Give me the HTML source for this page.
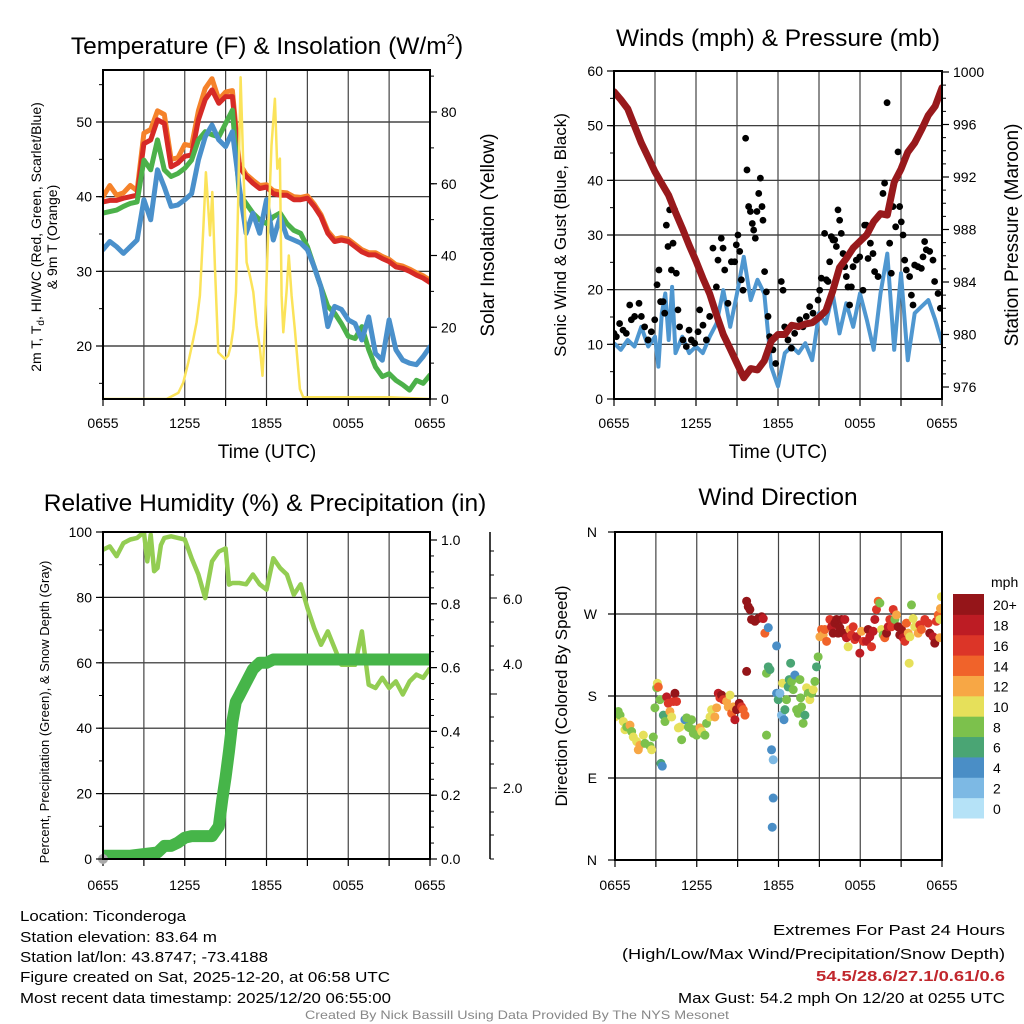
<!DOCTYPE html>
<html><head><meta charset="utf-8"><style>
html,body{margin:0;padding:0;background:#fff;}
svg{display:block;font-family:"Liberation Sans",Arial,sans-serif;}
</style></head><body>
<svg id="fig" width="1024" height="1024" viewBox="0 0 1024 1024" xmlns="http://www.w3.org/2000/svg">
<defs>
<clipPath id="c1"><rect x="103" y="70" width="327" height="329"/></clipPath>
<clipPath id="c2"><rect x="614" y="71" width="328" height="328"/></clipPath>
<clipPath id="c3"><rect x="103" y="532" width="327" height="327"/></clipPath>
<clipPath id="c4"><rect x="615" y="532" width="327" height="328"/></clipPath>
</defs>
<g id="p1"></g>
<g id="p2"></g>
<g id="p3"></g>
<g id="p4"></g>

<text x="267" y="54" font-size="24.5" text-anchor="middle">Temperature (F) &amp; Insolation (W/m<tspan font-size="15" dy="-10">2</tspan><tspan dy="10">)</tspan></text>
<text x="778" y="46" font-size="24.5" text-anchor="middle">Winds (mph) &amp; Pressure (mb)</text>
<text x="265" y="511" font-size="24.5" text-anchor="middle">Relative Humidity (%) &amp; Precipitation (in)</text>
<text x="778" y="505" font-size="24.5" text-anchor="middle">Wind Direction</text>

<text transform="translate(41,237) rotate(-90)" font-size="14" text-anchor="middle">2m T, T<tspan font-size="10" dy="3">d</tspan><tspan dy="-3">, HI/WC (Red, Green, Scarlet/Blue)</tspan></text>
<text transform="translate(57,237) rotate(-90)" font-size="14" text-anchor="middle">&amp; 9m T (Orange)</text>
<text transform="translate(494,235) rotate(-90)" font-size="19" text-anchor="middle">Solar Insolation (Yellow)</text>
<text x="267" y="458" font-size="19" text-anchor="middle">Time (UTC)</text>
<text transform="translate(566,235) rotate(-90)" font-size="17" text-anchor="middle">Sonic Wind &amp; Gust (Blue, Black)</text>
<text transform="translate(1018,235) rotate(-90)" font-size="19" text-anchor="middle">Station Pressure (Maroon)</text>
<text x="778" y="458" font-size="19" text-anchor="middle">Time (UTC)</text>
<text transform="translate(49,712) rotate(-90)" font-size="13" text-anchor="middle">Percent, Precipitation (Green), &amp; Snow Depth (Gray)</text>
<text transform="translate(567,696) rotate(-90)" font-size="17" text-anchor="middle">Direction (Colored By Speed)</text>

<g font-size="15">
<text x="20" y="921" textLength="166" lengthAdjust="spacingAndGlyphs">Location: Ticonderoga</text>
<text x="20" y="942" textLength="197" lengthAdjust="spacingAndGlyphs">Station elevation: 83.64 m</text>
<text x="20" y="962" textLength="248" lengthAdjust="spacingAndGlyphs">Station lat/lon: 43.8747; -73.4188</text>
<text x="20" y="982" textLength="370" lengthAdjust="spacingAndGlyphs">Figure created on Sat, 2025-12-20, at 06:58 UTC</text>
<text x="20" y="1003" textLength="371" lengthAdjust="spacingAndGlyphs">Most recent data timestamp: 2025/12/20 06:55:00</text>
</g>
<g font-size="15" text-anchor="end">
<text x="1005" y="935" textLength="232" lengthAdjust="spacingAndGlyphs">Extremes For Past 24 Hours</text>
<text x="1005" y="959" textLength="383" lengthAdjust="spacingAndGlyphs">(High/Low/Max Wind/Precipitation/Snow Depth)</text>
<text x="1005" y="981" textLength="189" lengthAdjust="spacingAndGlyphs" fill="#c1272d" font-weight="bold">54.5/28.6/27.1/0.61/0.6</text>
<text x="1005" y="1003" textLength="327" lengthAdjust="spacingAndGlyphs">Max Gust: 54.2 mph On 12/20 at 0255 UTC</text>
</g>
<text x="517" y="1019" font-size="12" fill="#888" text-anchor="middle" textLength="424" lengthAdjust="spacingAndGlyphs">Created By Nick Bassill Using Data Provided By The NYS Mesonet</text>
</svg>
<script>
// ---------- data ----------
const hours = [0,0.5,1,1.5,2,2.5,3,3.5,4,4.5,5,5.5,6,6.5,7,7.5,8,8.5,9,9.5,10,10.5,11,11.5,12,12.5,13,13.5,14,14.5,15,15.5,16,16.5,17,17.5,18,18.5,19,19.5,20,20.5,21,21.5,22,22.5,23,23.5,24];
const xTickLabels = ["0655","1255","1855","0055","0655"];
const tempRed = [39.3,39.5,39.5,39.8,40,40.2,47.1,47.6,50.3,49.8,44,44.5,45.4,45.6,50.3,53,54.3,52.5,53.4,53.4,44,42.7,41.8,41.1,41.3,40.4,40.2,40.2,39.6,39.6,39.8,38.7,37.3,35.1,34,34.2,34,33.3,32.6,32.2,32.2,31.7,31.3,30.6,30.4,30,29.5,29.1,28.5];
const tempOrange = [40,41.5,40.2,40.5,41.5,40.8,48.5,49,51.5,51,45,45.2,47,46.8,51.5,54.5,55.8,53,54,54.2,44.5,43,42.2,41.5,41.6,40.8,40.6,40.5,40,39.9,40.1,39,37.6,35.4,34.3,34.5,34.3,33.6,32.9,32.5,32.5,32,31.6,30.9,30.7,30.3,29.8,29.4,28.8];
const tempGreen = [37.8,38,38.2,38.7,39.1,39.3,44.9,43.6,47.6,43.6,42.7,43.1,43.8,44.9,47.6,48.7,48.3,48,49.8,51.6,40.4,39.1,37.8,36.9,36.4,37.3,37.8,36.4,35.5,35.1,33.3,30.6,27.9,25.3,24.4,23,21.3,21,22.6,19.5,17.2,15.9,16.3,15.4,14.8,14.1,15.4,15,16.1];
const tempBlue = [32.9,34,33.3,32.4,33.3,34.2,39.6,36.9,43.6,41.3,38.7,38.9,39.6,40.4,44.9,48,49.6,47.6,46.7,48.7,41.3,35.1,37.8,35.1,39.6,34.2,37.3,34.6,34.2,33.8,32.9,30.6,27.9,22.6,25.3,24.9,23.5,23,20.8,23.9,19,18.1,23.5,19.5,18.1,17.7,17.5,18.6,19.9];
const solarHours = [0,4.67,5.53,5.89,6.26,6.63,6.87,7.11,7.36,7.55,7.7,7.85,8.02,8.22,8.46,8.7,8.95,9.19,9.39,9.56,9.76,9.93,10.1,10.29,10.54,10.78,11.03,11.27,11.52,11.71,11.88,12.13,12.37,12.62,12.79,12.98,13.11,13.23,13.47,13.64,13.84,14.08,14.45,14.69,21.05,24];
const solarValues = [0,0,1.7,4.6,10.2,16.7,21.4,28.8,47.4,63.2,54.9,45.6,57.7,36.3,13,12.1,11.2,12.1,14.9,19.5,29.8,56.7,89.7,66,38.1,34.4,29.8,20.5,14,6.5,19.5,47.4,70.7,83.7,64.2,67,28.8,18.6,29.8,40,28.8,19.5,2.8,0.5,0.5,0];
const tempTicks = [20,30,40,50];
const solarTicks = [0,20,40,60,80];

const pressure = [998.5,997.9,997.2,995.9,994.6,993.5,992.4,991.5,990.6,989.3,988.1,986.8,985.6,984.3,983.1,981.5,980,978.9,977.8,976.7,977.4,977.3,978,979.5,980,980,980.7,980.6,980.8,980.9,981.3,981.8,983.3,985.1,985.8,986.6,987.1,987.6,988.6,989.2,989.1,991.6,992.6,993.9,994.6,995.6,996.7,997.4,998.8];
const sonicHours = [0,0.5,1,1.5,2,2.5,3,3.25,3.5,3.75,4,4.25,4.5,5,5.5,6,6.5,7,7.5,8,8.5,9,9.5,10,10.5,11,11.5,12,12.5,13,13.5,14,14.5,15,15.5,16,16.5,17,17.5,18,18.5,19,19.5,20,20.5,21,21.5,22,22.5,23,23.5,24];
const sonicWind = [10.2,9,10.8,9.6,13.2,9.6,11.4,5.9,15.7,19.3,10.8,20.5,8.4,11.4,8.4,9.6,8.4,11.4,13.8,19.9,13.2,19.3,26,18.1,21.8,19.3,5.9,2.3,8.4,9.6,8.4,10.2,7.1,15.7,13.8,19.3,12,17.5,13.2,19.3,14.5,9,19.3,26.6,9,23,7.1,15.7,16.9,18.1,14.5,10.2];
const gustHours = [0,0.17,0.41,0.66,0.9,1.15,1.27,1.51,1.83,2,2.24,2.49,2.73,2.98,3.15,3.29,3.41,3.59,3.71,3.83,3.95,4.07,4.2,4.32,4.44,4.56,4.68,4.8,5.05,5.29,5.49,5.66,5.9,6.15,6.27,6.51,6.76,7,7.24,7.49,7.61,7.85,7.98,8.1,8.34,8.59,8.83,8.95,9.07,9.2,9.32,9.44,9.63,9.73,9.85,9.98,10.12,10.22,10.34,10.46,10.59,10.71,10.83,10.9,11.02,11.15,11.27,11.39,11.63,11.83,12.24,12.37,12.49,12.73,12.98,13.22,13.59,13.83,14.07,14.32,14.56,14.93,15.05,15.17,15.41,15.54,15.66,15.78,15.9,16.02,16.15,16.27,16.39,16.51,16.63,16.76,16.88,17,17.12,17.24,17.37,17.49,17.73,17.98,18.22,18.34,18.46,18.59,18.76,18.95,19.07,19.32,19.68,19.8,19.98,20.17,20.29,20.41,20.61,20.78,20.9,21.02,21.15,21.27,21.39,21.63,21.76,21.88,22,22.24,22.49,22.61,22.73,22.85,23.1,23.34,23.46,23.71,23.88];
const gustValues = [12,11.4,13.8,12.6,12,17.2,14.5,15.1,17.5,15.1,13.2,10.8,12.3,14.5,20.9,23.6,17.8,17.8,15.7,31.8,27.9,34.6,23.6,28.5,34.6,23,16.3,13.2,10.8,9.6,12.6,10.8,10.2,12.3,16.3,13.5,10.8,15.1,27.6,20.5,25.4,29.4,27.6,23.6,17.5,25.1,25.1,28.2,30,27,21.8,19.9,47.7,41.9,35.2,34.3,32.1,30.9,29.4,34.3,37.6,40.4,35.2,32.7,23.3,19.6,15.1,11.4,9,6.5,21.5,19.9,13.2,10.8,9.3,12,14.5,13.2,15.1,16.9,15.7,18.1,19.9,22.1,30.3,21.8,21.5,25.1,29.7,29.1,29.1,27.9,34.6,32.7,30.3,26.6,24.2,22.4,20.5,17.2,20.5,24.2,25.4,26,19.9,31.8,31.8,25.7,28.5,26.6,23.3,22.4,37.6,39.5,54.2,28.5,23,35.2,31.5,45.2,35.2,32.4,30,25.4,23.6,22.4,19,17.2,24.5,24.2,23.9,26,28.8,27.3,27,25.4,21.5,19.3,16.6];
const windTicks = [0,10,20,30,40,50,60];
const pressureTicks = [976,980,984,988,992,996,1000];

const rhHours = [0,0.5,1,1.5,2,2.5,3,3.25,3.5,3.75,4,4.25,4.5,5,5.5,6,6.5,7,7.5,8,8.5,9,9.25,9.5,10,10.5,11,11.5,12,12.5,13,13.5,14,14.5,15,15.5,16,16.5,17,17.5,18,18.5,19,19.5,20,20.5,21,21.5,22,22.5,23,23.5,24];
const rhValues = [94.6,95.6,92.6,96.6,97.7,98.2,100,91,99.2,88,89,96,98.2,98.7,98.2,97.7,92,87,79.8,91,94,95,83.9,84.4,84.4,84,87,84,82.4,92,89,87,80.8,84,76.8,70.6,65.5,69.6,64.5,59.4,59.4,59.4,69.6,53.3,52.3,55.4,52.3,54.3,50.3,54.3,56.4,55.4,58.4];
const precipHours = [0,1,2,3,4,4.5,5,5.5,6,6.5,7,8,8.5,8.75,9,9.25,9.5,9.75,10,10.5,11,11.5,12,12.5,24];
const precipValues = [0.01,0.01,0.01,0.015,0.02,0.04,0.04,0.05,0.065,0.07,0.07,0.07,0.1,0.18,0.25,0.33,0.42,0.48,0.5,0.54,0.58,0.6,0.6,0.61,0.61];
const rhTicks = [0,20,40,60,80,100];
const precipTickLabels = ["0.0","0.2","0.4","0.6","0.8","1.0"];

const dirHours = [0,0.12,0.24,0.37,0.61,0.73,0.86,1.1,1.22,1.34,1.59,1.71,1.83,2.08,2.2,2.57,2.69,2.81,2.93,3.06,3.11,3.18,3.3,3.37,3.47,3.55,3.67,3.79,3.91,4.03,4.16,4.28,4.4,4.52,4.65,4.77,4.89,5.13,5.26,5.38,5.5,5.62,5.75,5.87,5.99,6.23,6.36,6.6,6.72,6.97,7.09,7.33,7.46,7.58,7.7,7.82,7.95,8.19,8.31,8.44,8.56,8.68,8.8,8.92,9.12,9.29,9.41,9.54,9.66,9.66,9.78,9.9,10.02,10.27,10.51,10.76,10.88,11,11.25,11.12,11.25,11.37,11.12,11.49,11.61,11.61,11.54,11.86,11.86,11.98,12.1,12.22,12.3,12.4,12.47,12.59,12.71,12.79,12.89,12.96,13.08,13.2,13.33,13.45,13.57,13.62,13.69,13.81,13.94,14.06,14.18,14.3,14.43,14.55,14.67,14.79,14.91,15.04,15.16,15.28,15.4,15.53,15.77,15.89,16.01,16.14,16.26,16.38,16.5,16.63,16.75,16.87,16.99,17.11,17.24,17.36,17.48,17.6,17.73,17.97,18.09,18.22,18.46,18.58,18.7,18.83,18.95,19.07,19.19,19.32,19.44,19.56,19.68,19.8,19.93,20.05,20.17,20.29,20.42,20.54,20.66,20.78,20.9,21.03,21.15,21.27,21.39,21.52,21.59,21.64,21.76,21.88,22,22.25,22.37,22.49,22.74,22.98,23.1,23.35,23.47,23.59,23.72,23.84,23.89,23.96,23.84];
const dirDegrees = [157,161,163,159,152,143,146,148,141,135,130,121,126,137,128,125,121,135,167,189,194,190,176,106,103,159,152,179,172,163,157,174,183,174,145,146,132,154,156,146,145,154,139,143,137,145,141,137,150,157,165,157,167,183,178,181,176,174,168,181,161,168,154,165,172,168,165,159,207,284,278,275,264,262,265,267,265,249,255,205,212,209,137,121,110,68,36,235,183,176,183,159,194,154,165,176,190,198,216,196,187,203,165,161,198,178,168,150,159,189,183,176,183,187,196,212,223,245,253,247,253,240,264,256,249,260,264,249,255,264,249,264,244,234,253,247,256,242,245,227,251,240,240,253,245,234,251,264,275,284,282,253,247,244,249,256,264,256,275,264,269,256,247,253,244,240,260,249,216,245,280,265,256,249,258,253,264,260,249,245,238,262,269,244,276,289,264];
const dirSpeeds = [11,9,9,9,11,11,9,13,9,11,11,13,13,11,9,9,11,9,9,9,11,15,9,7,5,7,9,19,17,13,11,17,21,17,11,11,9,5,9,9,9,9,9,9,9,13,11,9,9,11,11,13,13,19,17,21,17,13,13,11,15,13,19,21,21,17,15,15,21,21,21,21,21,21,21,21,19,15,5,9,7,7,9,5,3,5,5,5,5,7,3,3,11,5,7,9,7,7,7,9,9,5,9,9,9,9,9,9,7,11,9,11,9,11,9,7,9,13,15,13,15,15,17,19,21,21,21,21,21,21,21,19,19,11,13,17,17,17,19,19,13,17,19,21,19,17,19,19,17,15,9,11,9,15,21,19,17,17,17,9,13,21,21,21,19,17,15,13,11,11,9,11,11,13,17,15,17,17,21,19,21,17,15,13,13,11,11,11];
const dirTickLabels = ["N","E","S","W","N"];
const speedBinLabels = ["0","2","4","6","8","10","12","14","16","18","20+"];
const speedBinColors = ["#b5e2f7","#7db9e4","#4a8ec6","#4aa574","#7cc14c","#e6e05a","#f7a745","#f0632a","#dc3528","#bd1c24","#951519"];

// ---------- helpers ----------
const NS = "http://www.w3.org/2000/svg";
function mk(parent, tag, attrs){ const e=document.createElementNS(NS,tag); for(const k in attrs) e.setAttribute(k,attrs[k]); parent.appendChild(e); return e; }
function lin(d0,d1,r0,r1){ return v=>r0+(v-d0)*(r1-r0)/(d1-d0); }
function pathFrom(xs,ys,fx,fy){ return xs.map((h,i)=>(i?"L":"M")+fx(h).toFixed(1)+","+fy(ys[i]).toFixed(1)).join(""); }

function frame(g, x0,y0,x1,y1, fx, tickH, xlabelsY){
  for(let h=3;h<24;h+=3){
    const l=mk(g,"line",{x1:fx(h),x2:fx(h),y1:y0,y2:y1,stroke:"#444","stroke-width":1.2});
    
    
  }
  for(let h=0;h<=24;h+=3){
    const t=mk(g,"line",{x1:fx(h),x2:fx(h),y1:y1,y2:y1+7,stroke:"#000","stroke-width":1.2});
    
    
  }
  xTickLabels.forEach((s,i)=>{
    const t=mk(g,"text",{x:fx(i*6),y:xlabelsY,"font-size":14,"text-anchor":"middle"});
    t.textContent=s;
    
    
  });
}
function hgrid(g,x0,x1,ys){
  ys.forEach(y=>{
    const l=mk(g,"line",{x1:x0,x2:x1,y1:y,y2:y,stroke:"#222","stroke-width":1.2});
    
    
  });
}
function border(g,x0,y0,x1,y1){
  const r=mk(g,"rect",{x:x0,y:y0,width:x1-x0,height:y1-y0,fill:"none",stroke:"#000","stroke-width":2});
  
  
}
function yTicks(g,x,side,ticks,fy,labels,minorStep,minorRange){
  if(minorStep){
    for(let v=minorRange[0]; v<=minorRange[1]+1e-9; v+=minorStep){
      const y=fy(v);
      const t=mk(g,"line",{x1:x,x2:x+side*4,y1:y,y2:y,stroke:"#000","stroke-width":1});
      
      
    }
  }
  ticks.forEach((v,i)=>{
    const y=fy(v);
    const t=mk(g,"line",{x1:x,x2:x+side*7,y1:y,y2:y,stroke:"#000","stroke-width":1.2});
    
    
    const lb=mk(g,"text",{x:x+side*11,y:y+5,"font-size":14,"text-anchor":side<0?"end":"start"});
    lb.textContent=labels?labels[i]:String(v);
    
    
  });
}

// ---------- Panel 1 ----------
(function(){
  const g=document.getElementById("p1");
  const x0=103,x1=430,y0=70,y1=399;
  const fx=lin(0,24,x0,x1), fy=lin(20,50,346,122), fs=lin(0,80,399,112);
  hgrid(g,x0,x1,tempTicks.map(fy));
  frame(g,x0,y0,x1,y1,fx,0,428);
  const c=mk(g,"g",{"clip-path":"url(#c1)"});
  
  
  const series=[[tempOrange,"#f5822a","nine-meter-temp-line"],[tempRed,"#d62a26","temperature-line"],[tempGreen,"#4cb14a","dewpoint-line"],[tempBlue,"#4a90cb","wind-chill-line"]];
  series.forEach(s=>{
    const p=mk(c,"path",{d:pathFrom(hours,s[0],fx,fy),fill:"none",stroke:s[1],"stroke-width":5,"stroke-linejoin":"round","stroke-linecap":"round"});
    
    
  });
  const sp=mk(c,"path",{d:pathFrom(solarHours,solarValues,fx,fs),fill:"none",stroke:"#fbe35a","stroke-width":2.5,"stroke-linejoin":"round"});
  
  
  border(g,x0,y0,x1,y1);
  yTicks(g,x0,-1,tempTicks,fy,null,5,[15,55]);
  yTicks(g,x1,1,solarTicks,fs,null,10,[0,90]);
})();

// ---------- Panel 2 ----------
(function(){
  const g=document.getElementById("p2");
  const x0=614,x1=942,y0=71,y1=399;
  const fx=lin(0,24,x0,x1), fy=lin(0,60,399,71), fp=lin(976,1000,387,72);
  hgrid(g,x0,x1,windTicks.slice(1,-1).map(fy));
  frame(g,x0,y0,x1,y1,fx,0,428);
  const c=mk(g,"g",{"clip-path":"url(#c2)"});
  
  
  const sw=mk(c,"path",{d:pathFrom(sonicHours,sonicWind,fx,fy),fill:"none",stroke:"#4f97d0","stroke-width":4,"stroke-linejoin":"round"});
  
  
  gustHours.forEach((h,i)=>{
    const d=mk(c,"circle",{cx:fx(h),cy:fy(gustValues[i]),r:3.4,fill:"#000"});
    
    
  });
  const pp=mk(c,"path",{d:pathFrom(hours,pressure,fx,fp),fill:"none",stroke:"#98191c","stroke-width":7,"stroke-linejoin":"round","stroke-linecap":"round"});
  
  
  border(g,x0,y0,x1,y1);
  yTicks(g,x0,-1,windTicks,fy,null,5,[0,60]);
  yTicks(g,x1,1,pressureTicks,fp,null,1,[976,1000]);
})();

// ---------- Panel 3 ----------
(function(){
  const g=document.getElementById("p3");
  const x0=103,x1=430,y0=532,y1=859;
  const fx=lin(0,24,x0,x1), fy=lin(0,100,859,532), fin=lin(0,1,859,532), fr=lin(0,1,859,540);
  hgrid(g,x0,x1,rhTicks.slice(1,-1).map(fy));
  frame(g,x0,y0,x1,y1,fx,0,890);
  const c=mk(g,"g",{"clip-path":"url(#c3)"});
  
  
  const rh=mk(c,"path",{d:pathFrom(rhHours,rhValues,fx,fy),fill:"none",stroke:"#93cd52","stroke-width":4.5,"stroke-linejoin":"round"});
  
  
  const pr=mk(c,"path",{d:pathFrom(precipHours,precipValues,fx,fin),fill:"none",stroke:"#46b549","stroke-width":12,"stroke-linejoin":"round","stroke-linecap":"round"});
  
  
  const sd=mk(g,"circle",{cx:x0,cy:y1,r:5,fill:"#aaa"});
  
  
  border(g,x0,y0,x1,y1);
  yTicks(g,x0,-1,rhTicks,fy,null,10,[0,100]);
  yTicks(g,x1,1,[0,0.2,0.4,0.6,0.8,1.0],fr,precipTickLabels,0.05,[0,1]);
  const ax=mk(g,"line",{x1:490,x2:490,y1:532,y2:859,stroke:"#000","stroke-width":1.5});
  
  
  const sdTickYs=[859,835,812,788,764,741,717,694,670,646,622,598,575,551];
  sdTickYs.forEach((y,i)=>{
    const t=mk(g,"line",{x1:490,x2:(i%4===3)?497:494,y1:y,y2:y,stroke:"#000","stroke-width":1});
    
    
  });
  [["2.0",788],["4.0",664],["6.0",599]].forEach(a=>{
    const t=mk(g,"text",{x:503,y:a[1]+5,"font-size":14});
    t.textContent=a[0];
    
    
  });
})();

// ---------- Panel 4 ----------
(function(){
  const g=document.getElementById("p4");
  const x0=615,x1=942,y0=532,y1=860;
  const fx=lin(0,24,x0,x1), fd=lin(0,360,860,532);
  hgrid(g,x0,x1,[90,180,270].map(fd));
  frame(g,x0,y0,x1,y1,fx,0,890);
  const c=mk(g,"g",{"clip-path":"url(#c4)"});
  
  
  dirHours.forEach((h,i)=>{
    const s=dirSpeeds[i];
    const bin=Math.min(10,Math.floor(s/2));
    const d=mk(c,"circle",{cx:fx(h),cy:fd(dirDegrees[i]),r:4.5,fill:speedBinColors[bin]});
    
    
  });
  border(g,x0,y0,x1,y1);
  dirTickLabels.forEach((s,i)=>{
    const y=fd(i*90);
    const t=mk(g,"line",{x1:x0,x2:x0-7,y1:y,y2:y,stroke:"#000","stroke-width":1.2});
    
    
    const lb=mk(g,"text",{x:x0-18,y:y+5,"font-size":14,"text-anchor":"end"});
    lb.textContent=s;
    
    
  });
  const cbTop=594, cbH=224, n=speedBinColors.length, bh=cbH/n;
  for(let i=0;i<n;i++){
    const y=cbTop+(n-1-i)*bh;
    const r=mk(g,"rect",{x:953,y:y,width:31,height:bh+0.5,fill:speedBinColors[i]});
    
    
    const t=mk(g,"text",{x:993,y:y+bh/2+6,"font-size":14});
    t.textContent=speedBinLabels[i];
    
    
  }
  const u=mk(g,"text",{x:991,y:587,"font-size":14});
  u.textContent="mph";
  
  
})();
</script>
</body></html>
